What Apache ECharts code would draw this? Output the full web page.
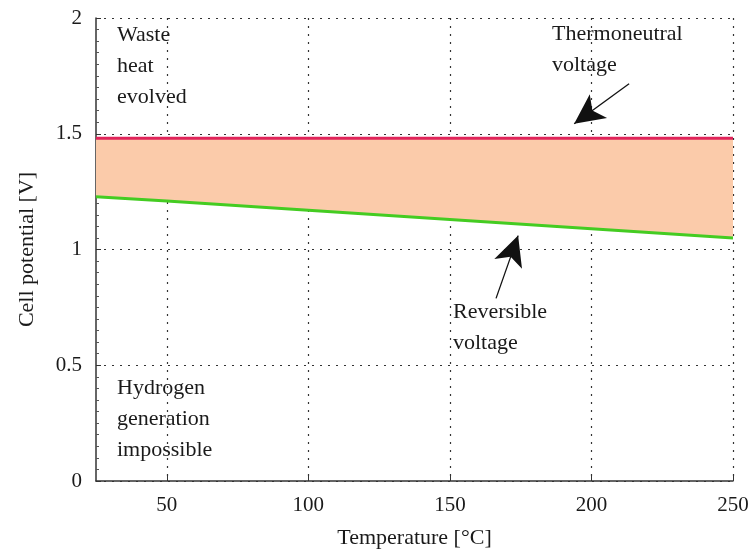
<!DOCTYPE html>
<html>
<head>
<meta charset="utf-8">
<script src="https://cdn.jsdelivr.net/npm/echarts@6/dist/echarts.min.js"></script>
<style>html,body{margin:0;padding:0;background:#fff}#c{width:750px;height:551px}</style>
</head>
<body>
<div id="c"></div>
<script>
var temperatures = [25, 50, 100, 150, 200, 250];
var reversibleVoltage = [1.228, 1.210, 1.170, 1.130, 1.090, 1.050];
var thermoneutralVoltage = [1.481, 1.481, 1.481, 1.481, 1.481, 1.481];
var xTicks = [50, 100, 150, 200, 250];
var yTicks = [0, 0.5, 1, 1.5, 2];

var FONT = '"Liberation Serif", "DejaVu Serif", serif';
var revPts = temperatures.map(function (t, i) { return [t, reversibleVoltage[i]]; });
var thermoPts = temperatures.map(function (t, i) { return [t, thermoneutralVoltage[i]]; });

var chart = echarts.init(document.getElementById('c'));
var dotted = { color: '#333', type: [2, 6], width: 1.2 };
chart.setOption({
  animation: false,
  grid: { left: 96, right: 17, top: 18, bottom: 70, show: false, outerBoundsMode: 'none', containLabel: false },
  xAxis: {
    type: 'value', min: 25, max: 250,
    name: 'Temperature [°C]', nameLocation: 'middle', nameGap: 46,
    nameTextStyle: { fontFamily: FONT, fontSize: 22, color: '#1a1a1a' },
    axisLine: { show: true, onZero: false, lineStyle: { color: '#333', width: 1.5 } },
    axisTick: { show: true, inside: true, length: 5, customValues: xTicks, lineStyle: { color: '#333' } },
    axisLabel: { customValues: xTicks, fontFamily: FONT, fontSize: 21, color: '#1a1a1a', margin: 14 },
    splitLine: { show: true, lineStyle: dotted }
  },
  yAxis: {
    type: 'value', min: 0, max: 2, interval: 0.5,
    name: 'Cell potential [V]', nameLocation: 'middle', nameGap: 58,
    nameTextStyle: { fontFamily: FONT, fontSize: 22, color: '#1a1a1a' },
    axisLine: { show: true, lineStyle: { color: '#333', width: 1.5 } },
    axisTick: { show: true, inside: true, length: 5, lineStyle: { color: '#333' } },
    minorTick: { show: true, splitNumber: 10, length: 3, lineStyle: { color: '#555' } },
    axisLabel: { fontFamily: FONT, fontSize: 21, color: '#1a1a1a', margin: 14,
      formatter: function (v) { return yTicks.indexOf(v) >= 0 ? String(v) : ''; } },
    splitLine: { show: true, lineStyle: dotted }
  },
  series: [
    { type: 'custom', name: 'band', silent: true, z: 1,
      data: temperatures.map(function (t, i) { return [t, reversibleVoltage[i], thermoneutralVoltage[i]]; }),
      renderItem: function (params, api) {
        if (params.dataIndex !== 0) return null;
        var pts = [];
        for (var i = 0; i < temperatures.length; i++) pts.push(api.coord([temperatures[i], thermoneutralVoltage[i]]));
        for (var j = temperatures.length - 1; j >= 0; j--) pts.push(api.coord([temperatures[j], reversibleVoltage[j]]));
        return { type: 'polygon', shape: { points: pts }, style: { fill: '#FBCBAA', stroke: null } };
      }
    },
    { type: 'line', name: 'Reversible voltage', data: revPts, symbol: 'none',
      lineStyle: { color: '#44CC22', width: 3 }, z: 3 },
    { type: 'line', name: 'Thermoneutral voltage', data: thermoPts, symbol: 'none',
      lineStyle: { color: '#E0245A', width: 3 }, z: 3,
      markLine: {
        silent: true, symbol: ['none', 'arrow'], symbolSize: [22, 30],
        label: { show: false },
        lineStyle: { color: '#111', width: 1.3, type: 'solid' },
        data: [
          [{ coord: [213.3, 1.716] }, { coord: [193.9, 1.543] }],
          [{ coord: [166.3, 0.789] }, { coord: [174.1, 1.060] }]
        ]
      }
    }
  ],
  graphic: [
    { type: 'text', left: 117, top: 20, style: { text: 'Waste\nheat\nevolved', font: '22px ' + FONT, fill: '#1a1a1a', lineHeight: 31 } },
    { type: 'text', left: 552, top: 19, style: { text: 'Thermoneutral\nvoltage', font: '22px ' + FONT, fill: '#1a1a1a', lineHeight: 31 } },
    { type: 'text', left: 453, top: 297, style: { text: 'Reversible\nvoltage', font: '22px ' + FONT, fill: '#1a1a1a', lineHeight: 31 } },
    { type: 'text', left: 117, top: 373, style: { text: 'Hydrogen\ngeneration\nimpossible', font: '22px ' + FONT, fill: '#1a1a1a', lineHeight: 31 } }
  ]
});
</script>
</body>
</html>
